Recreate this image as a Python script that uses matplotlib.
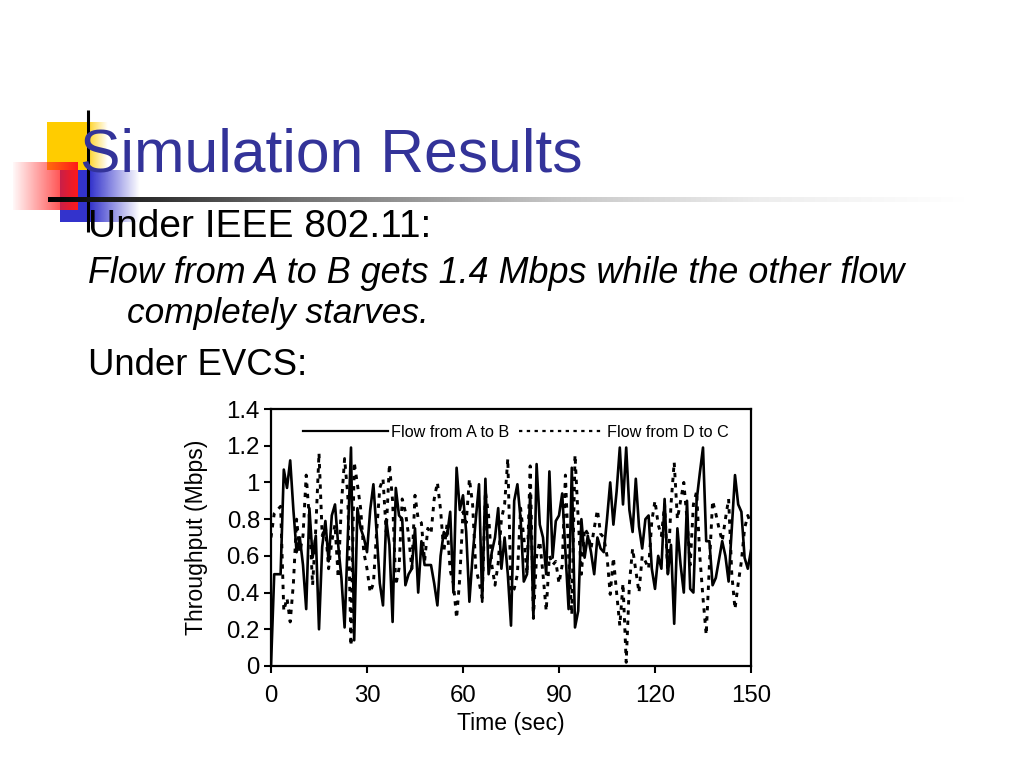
import numpy as np
import matplotlib
matplotlib.use("Agg")
import matplotlib.pyplot as plt

# ---------------- data ----------------
time_sec = list(range(0, 151))
flow_a_to_b = [
    0.00, 0.50, 0.50, 0.50, 1.07, 0.97, 1.12, 0.85, 0.62, 0.70,
    0.55, 0.31, 0.86, 0.59, 0.71, 0.20, 0.65, 0.79, 0.57, 0.82,
    0.88, 0.66, 0.48, 0.21, 0.70, 1.19, 0.14, 0.86, 0.75, 0.70,
    0.62, 0.85, 0.99, 0.73, 0.45, 0.33, 0.80, 0.66, 0.24, 0.97,
    0.82, 0.80, 0.44, 0.50, 0.53, 0.75, 0.40, 0.68, 0.55, 0.55,
    0.55, 0.45, 0.33, 0.60, 0.73, 0.71, 0.84, 0.40, 1.08, 0.85,
    0.93, 0.73, 0.35, 0.60, 0.80, 0.99, 0.35, 1.02, 0.50, 0.62,
    0.70, 0.86, 0.53, 0.70, 0.50, 0.22, 0.90, 0.99, 0.80, 0.46,
    0.50, 0.94, 0.26, 1.10, 0.77, 0.70, 0.50, 1.06, 0.59, 0.79,
    0.82, 0.94, 0.62, 0.31, 1.08, 0.21, 0.30, 0.80, 0.59, 0.71,
    0.62, 0.50, 0.70, 0.64, 0.62, 0.80, 1.00, 0.77, 0.95, 1.19,
    0.88, 1.19, 0.85, 0.73, 1.02, 0.76, 0.64, 0.80, 0.82, 0.53,
    0.42, 0.60, 0.53, 0.91, 0.50, 0.66, 0.23, 0.75, 0.55, 0.40,
    0.90, 0.42, 0.40, 0.90, 1.05, 1.19, 0.68, 0.68, 0.44, 0.48,
    0.58, 0.68, 0.60, 0.46, 0.75, 1.04, 0.88, 0.84, 0.59, 0.53,
    0.63,
]
flow_d_to_c = [
    0.70, 0.83, 0.85, 0.87, 0.30, 0.37, 0.24, 0.45, 0.80, 0.62,
    0.71, 1.04, 0.80, 0.44, 0.75, 1.16, 0.71, 0.76, 0.53, 0.68,
    0.77, 0.48, 0.88, 1.13, 0.93, 0.11, 1.11, 0.99, 0.86, 0.62,
    0.53, 0.40, 0.45, 0.73, 0.97, 1.02, 0.73, 1.10, 0.90, 0.44,
    0.53, 0.91, 0.84, 0.71, 0.53, 0.93, 0.80, 0.78, 0.57, 0.75,
    0.72, 0.91, 1.00, 0.85, 0.62, 0.77, 0.52, 0.45, 0.26, 0.48,
    0.84, 0.78, 1.02, 0.88, 0.53, 0.46, 0.37, 0.95, 0.82, 0.55,
    0.44, 0.56, 0.80, 0.88, 1.13, 0.40, 0.42, 0.50, 0.86, 0.70,
    0.50, 1.09, 0.26, 0.60, 0.68, 0.50, 0.30, 0.60, 0.55, 0.57,
    0.45, 0.55, 1.04, 0.60, 0.28, 1.15, 0.80, 0.50, 0.75, 0.72,
    0.64, 0.75, 0.85, 0.72, 0.70, 0.60, 0.39, 0.59, 0.40, 0.22,
    0.45, 0.02, 0.45, 0.64, 0.52, 0.40, 0.60, 0.57, 0.53, 0.79,
    0.90, 0.77, 0.71, 0.88, 0.50, 0.88, 1.11, 0.80, 0.90, 1.00,
    0.80, 0.55, 0.88, 0.95, 0.60, 0.37, 0.17, 0.55, 0.90, 0.83,
    0.75, 0.68, 0.80, 0.91, 0.50, 0.31, 0.45, 0.57, 0.75, 0.82,
    0.77,
]
series_labels = ["Flow from A to B", "Flow from D to C"]
x_ticks = [0, 30, 60, 90, 120, 150]
y_ticks = [0, 0.2, 0.4, 0.6, 0.8, 1.0, 1.2, 1.4]
y_tick_labels = ["0", "0.2", "0.4", "0.6", "0.8", "1", "1.2", "1.4"]

title_text = "Simulation Results"
bullet1 = "Under IEEE 802.11:"
sub1a = "Flow from A to B gets 1.4 Mbps while the other flow"
sub1b = "completely starves."
bullet2 = "Under EVCS:"

slide_font = "Liberation Sans"
chart_font = "Liberation Sans"

W, H = 1024, 768
fig = plt.figure(figsize=(W / 100, H / 100), dpi=100)
fig.patch.set_facecolor("white")

# overlay axes in pixel coordinates for slide decoration
deco = fig.add_axes([0, 0, 1, 1], zorder=0)
deco.axis("off")

def grad_rect(ax, x0, x1, y0, y1, rgb, direction="right", a0=0.0, a1=1.0, z=1):
    n = 128
    alpha = np.linspace(a0, a1, n)
    if direction == "left":
        alpha = alpha[::-1]
    img = np.zeros((1, n, 4))
    img[0, :, :3] = rgb
    img[0, :, 3] = alpha
    ax.imshow(img, extent=(x0, x1, y1, y0), aspect="auto", interpolation="bilinear", zorder=z)

# yellow square
deco.add_patch(plt.Rectangle((47, 122), 38, 48, color="#FFCC00", lw=0, zorder=1))
grad_rect(deco, 85, 108, 122, 170, (1.0, 0.8, 0.0), direction="left", z=1)
# blue square
deco.add_patch(plt.Rectangle((60, 170), 30, 52, color="#3333CC", lw=0, zorder=2))
grad_rect(deco, 90, 140, 170, 222, (0.2, 0.2, 0.8), direction="left", z=2)
# red square
grad_rect(deco, 13, 78, 162, 210, (1.0, 0.1, 0.1), direction="right", a0=0.03, a1=1.0, z=3)
# vertical black line
deco.plot([88, 88], [110, 232], color="black", lw=2.2, zorder=4, solid_capstyle="butt")
# horizontal gradient line: black -> gray -> white
n = 512
xs = np.linspace(48, 965, n)
gray = np.interp(xs, [48, 300, 560, 760, 965], [0.0, 0.45, 0.78, 0.93, 1.0])
line_img = np.ones((1, n, 4))
line_img[0, :, 0] = gray
line_img[0, :, 1] = gray
line_img[0, :, 2] = gray
deco.imshow(line_img, extent=(48, 965, 202.5, 198), aspect="auto", interpolation="bilinear", zorder=4)
deco.set_xlim(0, W)
deco.set_ylim(H, 0)

# slide text
deco.text(80, 172, title_text, fontsize=43.7, color="#333399", family=slide_font,
          ha="left", va="baseline", zorder=5)
deco.text(88, 237, bullet1, fontsize=28, color="black", family=slide_font,
          ha="left", va="baseline", zorder=5)
deco.text(88, 283, sub1a, fontsize=25.8, color="black", family=slide_font, style="italic",
          ha="left", va="baseline", zorder=5)
deco.text(127, 323, sub1b, fontsize=25.4, color="black", family=slide_font, style="italic",
          ha="left", va="baseline", zorder=5)
deco.text(88, 375, bullet2, fontsize=26.3, color="black", family=slide_font,
          ha="left", va="baseline", zorder=5)

# ---------------- chart ----------------
ax = fig.add_axes([271 / W, 1 - 666 / H, (751 - 271) / W, (666 - 409) / H], zorder=6)
ax.set_facecolor("white")
ax.plot(time_sec, flow_a_to_b, color="black", lw=1.9, label=series_labels[0], zorder=3)
ax.plot(time_sec, flow_d_to_c, color="black", lw=2.1, linestyle=(0, (1.5, 2.0)),
        label=series_labels[1], zorder=2)
ax.set_xlim(0, 150)
ax.set_ylim(0, 1.4)
ax.set_xticks(x_ticks)
ax.set_yticks(y_ticks)
ax.set_yticklabels(y_tick_labels)
for sp in ax.spines.values():
    sp.set_linewidth(1.6)
ax.tick_params(direction="out", length=5, width=1.5, labelsize=17.3)
ax.tick_params(axis="x", pad=9)
ax.tick_params(axis="y", pad=3)
for lbl in ax.get_xticklabels() + ax.get_yticklabels():
    lbl.set_family(chart_font)
ax.set_xlabel("Time (sec)", fontsize=16.6, family=chart_font, labelpad=3)
ax.set_ylabel("Throughput (Mbps)", fontsize=16.6, family=chart_font, labelpad=13)
leg = ax.legend(loc="upper center", ncol=2, frameon=False, bbox_to_anchor=(0.51, 0.995),
                prop={"family": chart_font, "size": 11.7}, handlelength=5.2,
                handletextpad=0.2, columnspacing=0.6)
for h in leg.legend_handles:
    h.set_linewidth(1.6)

fig.savefig("out.png", dpi=100, facecolor="white")
